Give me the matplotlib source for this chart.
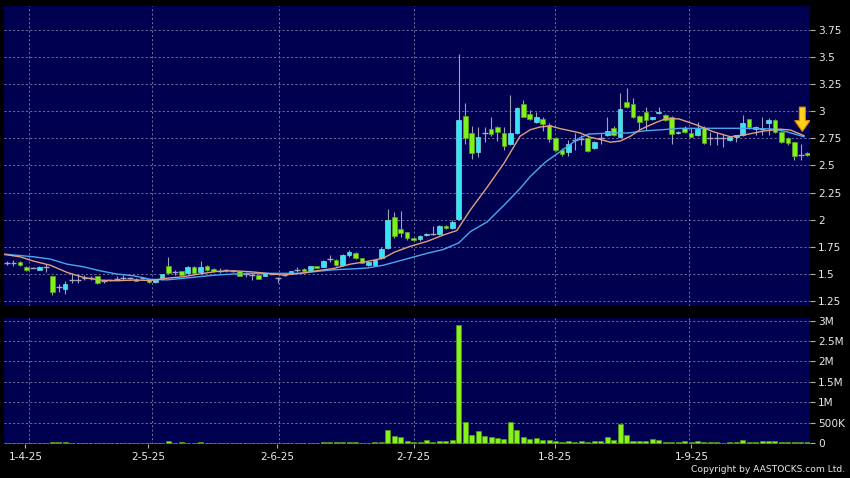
import matplotlib
matplotlib.use("Agg")
import matplotlib.pyplot as plt
from matplotlib.patches import Polygon
import numpy as np

# ---------------- data ----------------
opens = [1.60, 1.60, 1.61, 1.565, 1.555, 1.54, 1.56, 1.48, 1.375, 1.36,
         1.445, 1.445, 1.46, 1.46, 1.48, 1.43, 1.44, 1.45, 1.465, 1.465,
         1.456, 1.465, 1.45, 1.425, 1.45, 1.575, 1.517, 1.526, 1.505, 1.566,
         1.517, 1.572, 1.548, 1.529, 1.532, 1.53, 1.523, 1.50, 1.493, 1.493,
         1.483, 1.502, 1.459, 1.49, 1.499, 1.538, 1.545, 1.535, 1.569, 1.566,
         1.64, 1.627, 1.578, 1.676, 1.692, 1.646, 1.581, 1.584, 1.648, 1.735,
         2.025, 1.91, 1.883, 1.827, 1.818, 1.855, 1.87, 1.867, 1.944, 1.92,
         2.01, 2.957, 2.796, 2.627, 2.796, 2.833, 2.852, 2.80, 2.70, 2.80,
         3.065, 2.975, 2.90, 2.926, 2.874, 2.75, 2.642, 2.627, 2.735, 2.74,
         2.75, 2.664, 2.75, 2.78, 2.85, 2.765, 3.083, 3.065, 2.96, 2.997,
         2.926, 2.98, 2.966, 2.95, 2.796, 2.85, 2.80, 2.78, 2.85, 2.75,
         2.75, 2.75, 2.735, 2.765, 2.78, 2.926, 2.833, 2.84, 2.895, 2.92,
         2.81, 2.75, 2.713, 2.596, 2.617]
highs = [1.62, 1.625, 1.615, 1.57, 1.56, 1.57, 1.59, 1.48, 1.405, 1.43,
         1.505, 1.50, 1.49, 1.48, 1.485, 1.44, 1.45, 1.48, 1.49, 1.475,
         1.46, 1.475, 1.455, 1.455, 1.50, 1.66, 1.54, 1.53, 1.57, 1.57,
         1.621, 1.58, 1.555, 1.55, 1.545, 1.54, 1.53, 1.515, 1.505, 1.50,
         1.51, 1.51, 1.474, 1.50, 1.53, 1.566, 1.55, 1.575, 1.575, 1.625,
         1.676, 1.635, 1.68, 1.725, 1.70, 1.65, 1.615, 1.635, 1.744, 2.096,
         2.07, 2.08, 1.89, 1.835, 1.855, 1.875, 1.94, 1.95, 1.95, 2.0,
         3.53, 3.08, 2.864, 2.852, 2.852, 2.944, 2.86, 2.852, 3.15, 3.04,
         3.105, 3.01, 2.99, 2.95, 2.89, 2.76, 2.657, 2.735, 2.797, 2.78,
         2.78, 2.73, 2.80, 2.944, 2.86, 3.167, 3.213, 3.12, 2.97, 3.04,
         2.95, 3.04, 2.975, 2.96, 2.82, 2.86, 2.85, 2.90, 2.86, 2.81,
         2.80, 2.79, 2.77, 2.785, 2.97, 2.93, 2.86, 2.95, 2.935, 2.925,
         2.815, 2.76, 2.72, 2.70, 2.625]
lows = [1.58, 1.575, 1.575, 1.53, 1.55, 1.535, 1.515, 1.305, 1.33, 1.315,
        1.42, 1.42, 1.44, 1.445, 1.41, 1.42, 1.43, 1.44, 1.44, 1.455,
        1.43, 1.455, 1.42, 1.42, 1.445, 1.50, 1.49, 1.485, 1.50, 1.50,
        1.50, 1.53, 1.515, 1.51, 1.52, 1.52, 1.48, 1.475, 1.44, 1.45,
        1.48, 1.495, 1.413, 1.485, 1.495, 1.517, 1.52, 1.53, 1.55, 1.56,
        1.609, 1.57, 1.575, 1.66, 1.64, 1.60, 1.575, 1.58, 1.64, 1.73,
        1.83, 1.843, 1.81, 1.80, 1.805, 1.85, 1.86, 1.86, 1.915, 1.91,
        2.0, 2.70, 2.556, 2.58, 2.72, 2.775, 2.73, 2.64, 2.69, 2.79,
        2.945, 2.92, 2.89, 2.82, 2.72, 2.63, 2.587, 2.587, 2.642, 2.69,
        2.62, 2.65, 2.70, 2.77, 2.77, 2.76, 3.03, 2.94, 2.83, 2.83,
        2.92, 2.975, 2.91, 2.70, 2.79, 2.80, 2.76, 2.77, 2.70, 2.69,
        2.69, 2.67, 2.73, 2.72, 2.775, 2.84, 2.78, 2.78, 2.785, 2.80,
        2.71, 2.69, 2.55, 2.55, 2.59]
closes = [1.60, 1.60, 1.58, 1.535, 1.555, 1.565, 1.56, 1.33, 1.375, 1.405,
          1.445, 1.445, 1.46, 1.46, 1.415, 1.43, 1.44, 1.45, 1.465, 1.465,
          1.437, 1.465, 1.425, 1.45, 1.495, 1.505, 1.517, 1.49, 1.566, 1.505,
          1.566, 1.535, 1.523, 1.529, 1.532, 1.53, 1.483, 1.50, 1.493, 1.453,
          1.508, 1.502, 1.459, 1.49, 1.523, 1.538, 1.526, 1.572, 1.554, 1.618,
          1.64, 1.578, 1.673, 1.70, 1.646, 1.603, 1.609, 1.627, 1.728, 1.997,
          1.85, 1.88, 1.827, 1.812, 1.85, 1.87, 1.87, 1.944, 1.92, 1.98,
          2.92, 2.75, 2.617, 2.765, 2.796, 2.787, 2.806, 2.68, 2.80, 3.028,
          2.95, 2.926, 2.95, 2.883, 2.74, 2.64, 2.61, 2.695, 2.735, 2.74,
          2.636, 2.72, 2.75, 2.82, 2.78, 3.018, 3.037, 2.95, 2.90, 2.92,
          2.944, 2.997, 2.92, 2.79, 2.81, 2.806, 2.765, 2.833, 2.71, 2.75,
          2.75, 2.75, 2.765, 2.78, 2.895, 2.852, 2.852, 2.84, 2.92, 2.81,
          2.72, 2.704, 2.59, 2.596, 2.596]
volumes = [5000, 5000, 8000, 10000, 5000, 8000, 5000, 33000, 16000, 16000,
           5000, 5000, 5000, 5000, 8000, 5000, 5000, 5000, 5000, 5000,
           8000, 5000, 8000, 8000, 10000, 57000, 10000, 25000, 10000, 8000,
           33000, 8000, 8000, 5000, 5000, 5000, 8000, 5000, 5000, 8000,
           8000, 5000, 10000, 5000, 8000, 5000, 8000, 8000, 8000, 25000,
           25000, 25000, 25000, 25000, 25000, 10000, 10000, 25000, 25000, 330000,
           180000, 148000, 50000, 25000, 25000, 65000, 20000, 40000, 40000, 80000,
           2900000, 515000, 205000, 300000, 180000, 147000, 130000, 100000, 515000, 310000,
           147000, 90000, 115000, 65000, 65000, 50000, 33000, 50000, 33000, 50000,
           25000, 40000, 40000, 147000, 65000, 475000, 190000, 57000, 57000, 57000,
           106000, 80000, 33000, 33000, 33000, 40000, 33000, 50000, 25000, 25000,
           16000, 8000, 25000, 16000, 75000, 33000, 16000, 40000, 40000, 40000,
           25000, 25000, 25000, 16000, 16000]

# moving averages (trading-day index, price)
ma_short_x = [-0.5, 2, 4, 6.7, 9.3, 11.8, 14.4, 17, 19.6, 22.2, 24.8, 27.3, 29.9,
              32.5, 35.1, 37.7, 40.3, 42.8, 45.4, 48, 50.6, 53.2, 55.8, 58.3, 60,
              62.5, 65.1, 67.6, 69.7, 71.8, 74.4, 77, 79.5, 81.1, 82.6, 84.2, 85.7,
              87.3, 88.8, 90.4, 91.9, 93.5, 95.0, 96.6, 98.1, 100.3, 102, 104.1,
              106.9, 109.5, 112.1, 114.7, 117.3, 119.8, 121.4, 123.5]
ma_short_y = [1.68, 1.658, 1.62, 1.58, 1.514, 1.468, 1.443, 1.437, 1.443, 1.44,
              1.46, 1.474, 1.50, 1.523, 1.529, 1.52, 1.505, 1.49, 1.505, 1.529,
              1.55, 1.59, 1.615, 1.645, 1.70, 1.755, 1.80, 1.858, 1.90, 2.09,
              2.30, 2.52, 2.77, 2.83, 2.855, 2.865, 2.84, 2.82, 2.80, 2.76,
              2.74, 2.715, 2.725, 2.77, 2.83, 2.89, 2.93, 2.93, 2.873, 2.81,
              2.765, 2.787, 2.818, 2.835, 2.827, 2.775]
ma_long_x = [-0.5, 4.1, 6.7, 9.3, 11.8, 14.4, 17, 19.6, 22.2, 24.8, 27.3, 29.9,
             32.5, 35.1, 37.7, 40.3, 42.8, 45.4, 48, 50.6, 53.2, 55.8, 58.3, 61.4,
             65.1, 67.6, 70, 71.8, 74.4, 77, 79.5, 81.1, 83.4, 86, 88.6, 90.1,
             93.8, 96.3, 98.9, 101.5, 104.3, 109.5, 114.7, 118.8, 120.9, 123.5]
ma_long_y = [1.683, 1.658, 1.637, 1.59, 1.566, 1.529, 1.499, 1.483, 1.45, 1.445,
             1.459, 1.475, 1.49, 1.499, 1.505, 1.505, 1.505, 1.505, 1.523, 1.538,
             1.545, 1.554, 1.58, 1.63, 1.69, 1.725, 1.786, 1.89, 1.98, 2.133,
             2.287, 2.40, 2.53, 2.64, 2.75, 2.79, 2.80, 2.80, 2.82, 2.83,
             2.843, 2.843, 2.843, 2.836, 2.81, 2.765]

date_ticks = [2.84, 21.91, 41.91, 63.0, 84.96, 106.05]
date_grid = [3.46, 22.43, 42.22, 63.0, 84.96, 105.63]
date_labels = ["1-4-25", "2-5-25", "2-6-25", "2-7-25", "1-8-25", "1-9-25"]
price_ticks = [1.25, 1.5, 1.75, 2.0, 2.25, 2.5, 2.75, 3.0, 3.25, 3.5, 3.75]
price_labels = ["1.25", "1.5", "1.75", "2", "2.25", "2.5", "2.75", "3", "3.25", "3.5", "3.75"]
vol_ticks = [0, 500000, 1000000, 1500000, 2000000, 2500000, 3000000]
vol_labels = ["0", "500K", "1M", "1.5M", "2M", "2.5M", "3M"]

# ---------------- styling ----------------
BG = "#000000"
PANEL = "#000050"
GRID = "#6c6c9c"
TXT = "#e8e8e8"
UP = "#33e6f5"
UP_EDGE = "#7fd8e0"
DOWN = "#7ef21a"
DOWN_EDGE = "#5aa81a"
DOJI = "#a6a6c4"
WICK = "#a0a0b8"
MA_S = "#e0a080"
MA_L = "#4aa8f0"

W, H = 850, 478
fig = plt.figure(figsize=(W / 100, H / 100), dpi=100, facecolor=BG)
ax = fig.add_axes([4 / W, 1 - 306 / H, 806 / W, 300 / H])
axv = fig.add_axes([4 / W, 1 - 444 / H, 806 / W, 126 / H], sharex=ax)

n = len(opens)
x = np.arange(n)
o = np.array(opens); c = np.array(closes)
h = np.array(highs); l = np.array(lows)

for a in (ax, axv):
    a.set_facecolor(PANEL)
    for s in a.spines.values():
        s.set_visible(False)
    a.yaxis.tick_right()
    a.tick_params(axis="y", colors=TXT, labelsize=7.6, length=3.5, width=0.8,
                  pad=2.5, direction="out")
    a.tick_params(axis="y", color="#b0b0b0")
    a.set_axisbelow(True)
    for gx in date_grid:
        a.axvline(gx, color=GRID, lw=0.7, ls=(0, (2.2, 2.2)), zorder=0)

ax.set_xlim(-0.47, 124.43)
ax.set_ylim(1.204, 3.971)
ax.set_yticks(price_ticks)
ax.set_yticklabels(price_labels)
ax.grid(axis="y", color=GRID, lw=0.7, ls=(0, (2.2, 2.2)), zorder=0)
ax.tick_params(axis="x", which="both", bottom=False, labelbottom=False)

# candles
bw = 0.72
up = c > o
dn = c < o
dj = c == o
ax.vlines(x, l, h, color=WICK, lw=0.8, zorder=2)
ax.bar(x[up], (c - o)[up], bottom=o[up], width=bw, color=UP,
       edgecolor=UP_EDGE, linewidth=0.5, zorder=3)
ax.bar(x[dn], (o - c)[dn], bottom=c[dn], width=bw, color=DOWN,
       edgecolor=DOWN_EDGE, linewidth=0.5, zorder=3)
ax.hlines(c[dj], x[dj] - bw / 2 - 0.1, x[dj] + bw / 2 + 0.1, color=DOJI,
          lw=1.0, zorder=3)

# moving averages
ax.plot(ma_long_x, ma_long_y, color=MA_L, lw=1.0, zorder=4)
ax.plot(ma_short_x, ma_short_y, color=MA_S, lw=1.0, zorder=4)

# yellow marker arrow (axes fraction)
cx = 0.9905
arrow = Polygon([[cx - 0.0037, 0.663], [cx + 0.0037, 0.663], [cx + 0.0037, 0.618],
                 [cx + 0.0095, 0.618], [cx, 0.582], [cx - 0.0095, 0.618],
                 [cx - 0.0037, 0.618]], closed=True, transform=ax.transAxes,
                facecolor="#ffd21e", edgecolor="#e08a00", lw=0.8, zorder=6)
ax.add_patch(arrow)

# volume
axv.bar(x, volumes, width=0.78, color="#86f21e", edgecolor="#4f9a12",
        linewidth=0.5, zorder=3)
axv.set_ylim(-25000, 3066000)
axv.set_yticks(vol_ticks)
axv.set_yticklabels(vol_labels)
axv.grid(axis="y", color=GRID, lw=0.7, ls=(0, (2.2, 2.2)), zorder=0)
axv.set_xticks(date_ticks)
axv.set_xticklabels(date_labels)
axv.tick_params(axis="x", colors=TXT, labelsize=7.6, length=3, width=0.8,
                pad=3, direction="out")
axv.tick_params(axis="x", color="#b0b0b0")

fig.text(845 / W, 1 - 470 / H, "Copyright by AASTOCKS.com Ltd.", color=TXT,
         fontsize=6.6, ha="right", va="center")

fig.savefig("out.png", dpi=100, facecolor=BG)
